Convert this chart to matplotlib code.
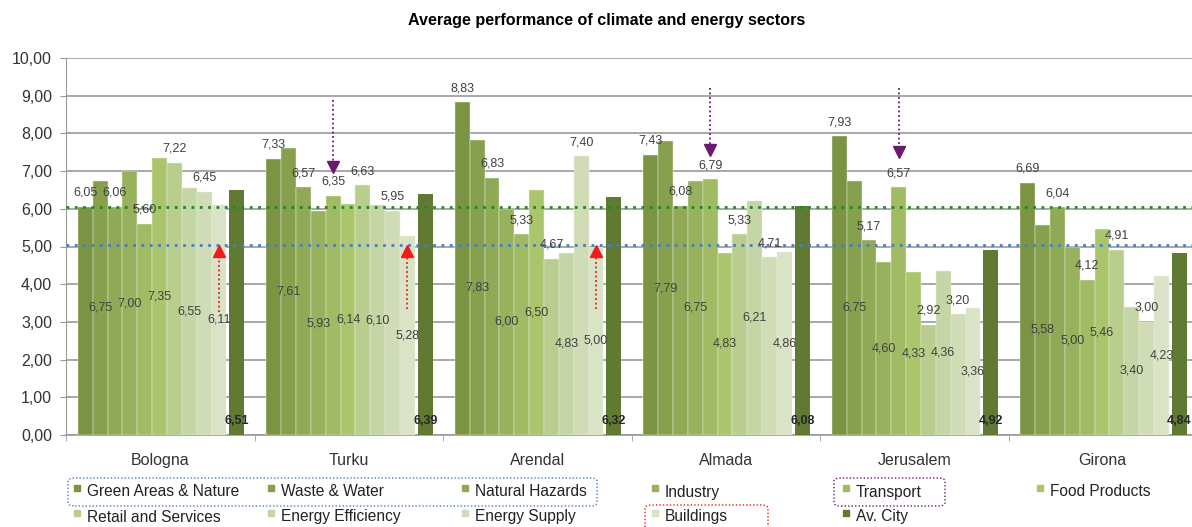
import numpy as np
import matplotlib.pyplot as plt
from matplotlib.patches import FancyBboxPatch, Rectangle

plt.rcParams['font.family'] = ['Liberation Sans', 'DejaVu Sans']

cities = ['Bologna', 'Turku', 'Arendal', 'Almada', 'Jerusalem', 'Girona']
sectors = ['Green Areas & Nature', 'Waste & Water', 'Natural Hazards', 'Industry',
           'Transport', 'Food Products', 'Retail and Services', 'Energy Efficiency',
           'Energy Supply', 'Buildings']

green_areas = [6.05, 7.33, 8.83, 7.43, 7.93, 6.69]
waste_water = [6.75, 7.61, 7.83, 7.79, 6.75, 5.58]
natural_hazards = [6.06, 6.57, 6.83, 6.08, 5.17, 6.04]
industry = [7.00, 5.93, 6.00, 6.75, 4.60, 5.00]
transport = [5.60, 6.35, 5.33, 6.79, 6.57, 4.12]
food_products = [7.35, 6.14, 6.50, 4.83, 4.33, 5.46]
retail = [7.22, 6.63, 4.67, 5.33, 2.92, 4.91]
energy_eff = [6.55, 6.10, 4.83, 6.21, 4.36, 3.40]
energy_supply = [6.45, 5.95, 7.40, 4.71, 3.20, 3.00]
buildings = [6.11, 5.28, 5.00, 4.86, 3.36, 4.23]
av_city = [6.51, 6.39, 6.32, 6.08, 4.92, 4.84]

green_ref = 6.06
blue_ref = 5.04

series = [green_areas, waste_water, natural_hazards, industry, transport,
          food_products, retail, energy_eff, energy_supply, buildings]
colors = ['#7a9444', '#86a04e', '#8fa956', '#97b15c', '#a0bb64', '#aac56c',
          '#b8cd8e', '#c5d6a6', '#cfdcb6', '#d9e3c6']
av_color = '#617a33'

fig = plt.figure(figsize=(11.92, 5.27), dpi=100)
ax = fig.add_axes([66/1192, 1-435/527, (1197-66)/1192, (435-58)/527])

x = np.arange(len(cities))
w = 0.0788
start = -0.5 + 0.063
lab_kw = dict(fontsize=9, color='#404040', ha='center', va='center')

def fmt(v):
    return f'{v:.2f}'.replace('.', ',')

for i, vals in enumerate(series):
    xs = x + start + (i + 0.5) * w
    ax.bar(xs, vals, w, color=colors[i], edgecolor='#eef2e4', linewidth=0.3, zorder=3)
    for xi, v in zip(xs, vals):
        if i % 2 == 0:
            ax.text(xi, v + 0.37, fmt(v), zorder=5, **lab_kw)
        else:
            ax.text(xi, v / 2, fmt(v), zorder=5, **lab_kw)

xa = x + start + 10 * w + 0.016 + w / 2
ax.bar(xa, av_city, w, color=av_color, zorder=3)
for xi, v in zip(xa, av_city):
    ax.text(xi, 0.38, fmt(v), fontsize=9, fontweight='bold', color='#262626',
            ha='center', va='center', zorder=5)

# reference lines
ax.axhline(green_ref, color='#1e8a1e', lw=2, ls=(0, (1, 2)), zorder=4)
ax.axhline(blue_ref, color='#4a7cc4', lw=2, ls=(0, (1, 2)), zorder=4)

# purple arrows on Transport (Turku, Almada, Jerusalem)
purple = '#6b1a72'
for c, top, head in [(1, 8.89, 7.12), (3, 9.2, 7.55), (4, 9.2, 7.5)]:
    xp = x[c] + start + 4.5 * w
    ax.plot([xp, xp], [top, head], color=purple, lw=1.3, ls=(0, (1, 1.5)), zorder=6)
    ax.plot(xp, head, marker='v', ms=9, color=purple, zorder=6)

# red arrows on Buildings (Bologna, Turku, Arendal)
for c, bot in [(0, 3.27), (1, 3.34), (2, 3.35)]:
    xr = x[c] + start + 9.5 * w
    ax.plot([xr, xr], [bot, 4.85], color='#ee1c1c', lw=1.3, ls=(0, (1, 1.5)), zorder=6)
    ax.plot(xr, 4.87, marker='^', ms=8, color='#ee1c1c', zorder=6)

ax.set_xlim(-0.5, len(cities) - 0.5)
ax.set_ylim(0, 10)
ax.set_yticks(np.arange(0, 11, 1))
ax.set_yticklabels([fmt(v) for v in np.arange(0, 11, 1)], fontsize=11.5, color='#333333')
ax.yaxis.grid(True, color='#9a9a9a', lw=1.2, zorder=0)
ax.set_xticks(x)
ax.set_xticklabels(cities, fontsize=11.5, color='#333333')
ax.set_xticks(np.arange(-0.5, len(cities), 1), minor=True)
ax.tick_params(axis='x', which='major', length=0, pad=13)
ax.tick_params(axis='x', which='minor', length=4, color='#9a9a9a')
ax.tick_params(axis='y', length=4, color='#9a9a9a', pad=6)
for s in ['top', 'right']:
    ax.spines[s].set_visible(False)
ax.spines['left'].set_color('#9a9a9a')
ax.spines['bottom'].set_color('#9a9a9a')
ax.spines['bottom'].set_linewidth(1.2)

fig.text(607/1192, 1-20/527, 'Average performance of climate and energy sectors',
         ha='center', va='center', fontsize=11.6, fontweight='bold')

# legend, laid out as in the original
col_x = [77, 271, 465, 655, 846, 1040]
row_y = [492, 517]
names = sectors + ['Av. City']
cols = colors + [av_color]
for k, (nm, cl) in enumerate(zip(names, cols)):
    r, c = divmod(k, 6)
    px, py = col_x[c], row_y[r]
    fig.add_artist(Rectangle(((px - 3) / 1192, 1 - (py - 1) / 527), 6 / 1192, 6 / 527,
                             transform=fig.transFigure, color=cl))
    fig.text((px + 10) / 1192, 1 - py / 527, nm, fontsize=11.2, color='#222222',
             ha='left', va='center')

for (x0, y0, x1, y1, cl) in [(68, 478, 597, 506, '#4a7cc4'),
                             (834, 478, 945, 506, purple),
                             (645, 505, 768, 532, '#ee1c1c')]:
    fig.add_artist(FancyBboxPatch((x0 / 1192, 1 - y1 / 527), (x1 - x0) / 1192, (y1 - y0) / 527,
                                  boxstyle='round,pad=0,rounding_size=0.006',
                                  transform=fig.transFigure, fill=False,
                                  edgecolor=cl, lw=1, ls=(0, (1, 1.5))))

fig.savefig('out.png', dpi=100)
